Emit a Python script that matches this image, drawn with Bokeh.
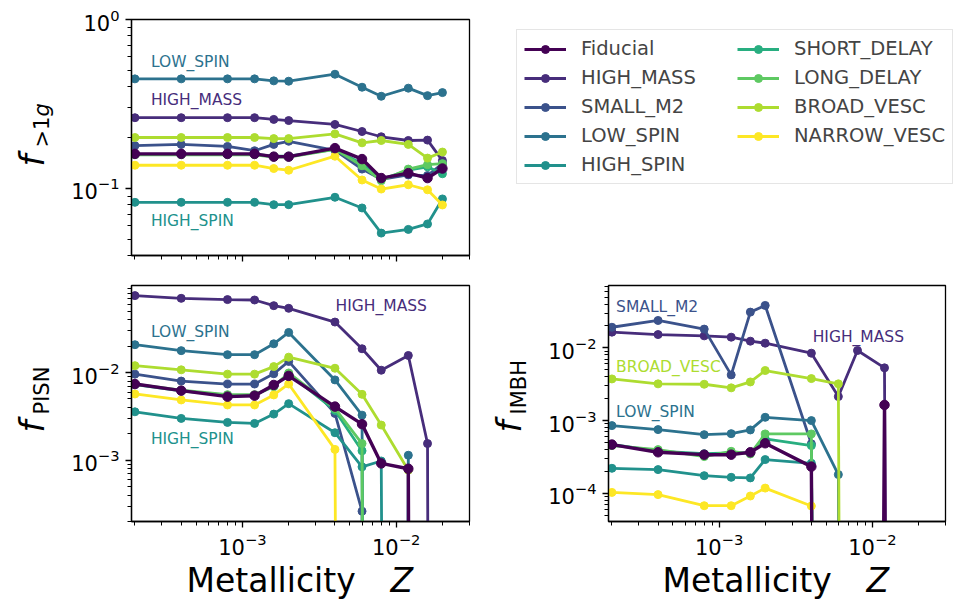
import math
from bokeh.plotting import figure
from bokeh.models import (Range1d, FixedTicker, CustomJSTickFormatter, Label,
                          Legend, LegendItem, ColumnDataSource)
from bokeh.core.properties import value
from bokeh.layouts import row, column
from bokeh.embed import file_html
from bokeh.resources import INLINE

# ---------------- data ----------------
Z = [0.0002, 0.0004, 0.0008, 0.0012, 0.0016, 0.002, 0.004, 0.006, 0.008, 0.012, 0.016, 0.02]

SERIES = ["Fiducial", "HIGH_MASS", "SMALL_M2", "LOW_SPIN", "HIGH_SPIN",
          "SHORT_DELAY", "LONG_DELAY", "BROAD_VESC", "NARROW_VESC"]
COLORS = ["#440154", "#472d7b", "#3b528b", "#2c728e", "#21918c",
          "#28ae80", "#5ec962", "#addc30", "#fde725"]

# f_{>1g}
g1_fiducial = [0.160, 0.160, 0.160, 0.160, 0.154, 0.154, 0.173, 0.149, 0.115, 0.123, 0.115, 0.131]
g1_high_mass = [0.262, 0.262, 0.262, 0.262, 0.256, 0.252, 0.239, 0.217, 0.202, 0.192, 0.193, 0.146]
g1_small_m2 = [0.179, 0.182, 0.177, 0.167, 0.182, 0.190, 0.168, 0.130, 0.113, 0.120, 0.119, 0.140]
g1_low_spin = [0.445, 0.445, 0.445, 0.445, 0.433, 0.431, 0.474, 0.397, 0.351, 0.392, 0.354, 0.369]
g1_high_spin = [0.0826, 0.0826, 0.0826, 0.0826, 0.080, 0.080, 0.0885, 0.0765, 0.0543, 0.0571, 0.0615, 0.0865]
g1_short_delay = [0.159, 0.159, 0.159, 0.159, 0.155, 0.155, 0.170, 0.140, 0.113, 0.128, 0.134, 0.122]
g1_long_delay = [0.158, 0.158, 0.158, 0.158, 0.153, 0.153, 0.170, 0.136, 0.111, 0.130, 0.138, 0.140]
g1_broad_vesc = [0.200, 0.200, 0.200, 0.200, 0.197, 0.197, 0.210, 0.186, 0.192, 0.182, 0.151, 0.164]
g1_narrow_vesc = [0.137, 0.137, 0.137, 0.137, 0.131, 0.128, 0.155, 0.112, 0.099, 0.105, 0.098, 0.0797]

# f_PISN
pisn_fiducial = [0.0074, 0.00622, 0.00531, 0.00545, 0.00722, 0.00916, 0.00409, 0.00258, 0.00092, 0.00080, 0, 0]
pisn_high_mass = [0.0755, 0.0703, 0.068, 0.0673, 0.058, 0.0541, 0.0377, 0.0187, 0.01064, 0.01567, 0.00155, 0]
pisn_small_m2 = [0.0096, 0.0080, 0.0074, 0.0074, 0.0097, 0.0134, 0.00342, 0.000262, 0, 0, 0, 0]
pisn_low_spin = [0.0208, 0.0178, 0.0160, 0.0160, 0.0213, 0.0287, 0.00825, 0.00327, 0, 0.00114, 0, 0]
pisn_high_spin = [0.00357, 0.0030, 0.0027, 0.00263, 0.00336, 0.00442, 0.00206, 0.00084, 0.00098, 0, 0, 0]
pisn_short_delay = [0.0073, 0.0062, 0.0055, 0.0055, 0.0070, 0.0097, 0.0037, 0.00128, 0, 0, 0, 0]
pisn_long_delay = [0.0074, 0.0063, 0.0056, 0.0056, 0.0069, 0.0099, 0.0039, 0.00155, 0, 0, 0, 0]
pisn_broad_vesc = [0.0120, 0.01075, 0.0096, 0.0096, 0.0117, 0.0150, 0.0112, 0.00565, 0.00252, 0.00077, 0, 0]
pisn_narrow_vesc = [0.0057, 0.00487, 0.00427, 0.00427, 0.00556, 0.00741, 0.00133, 0, 0, 0, 0, 0]

# f_IMBH
imbh_fiducial = [0.000468, 0.000367, 0.00034, 0.00034, 0.000367, 0.000488, 0.000233, 0, 0, 0.00164, 0, 0]
imbh_high_mass = [0.01644, 0.01524, 0.01462, 0.01402, 0.01236, 0.01159, 0.00845, 0.00214, 0.00919, 0.00531, 0, 0]
imbh_small_m2 = [0.0192, 0.0238, 0.0181, 0.00425, 0.0310, 0.0383, 0.00048, 0, 0, 0, 0, 0]
imbh_low_spin = [0.000853, 0.000752, 0.000641, 0.000662, 0.000744, 0.00111, 0.0010, 0.000181, 0, 0, 0, 0]
imbh_high_spin = [0.000221, 0.000212, 0.000175, 0.000166, 0.000163, 0.000291, 0.000259, 0, 0, 0, 0, 0]
imbh_short_delay = [0.00047, 0.00038, 0.00035, 0.00036, 0.00036, 0.00056, 0.000453, 0, 0, 0, 0, 0]
imbh_long_delay = [0.000453, 0.000399, 0.000320, 0.000378, 0.000348, 0.000656, 0.000656, 0, 0, 0, 0, 0]
imbh_broad_vesc = [0.00374, 0.00320, 0.00316, 0.00282, 0.00340, 0.00488, 0.00378, 0.00320, 0, 0, 0, 0]
imbh_narrow_vesc = [0.000103, 0.000096, 0.0000676, 0.0000676, 0.0000919, 0.000118, 0.0000669, 0, 0, 0, 0, 0]

G1 = [g1_fiducial, g1_high_mass, g1_small_m2, g1_low_spin, g1_high_spin,
      g1_short_delay, g1_long_delay, g1_broad_vesc, g1_narrow_vesc]
PISN = [pisn_fiducial, pisn_high_mass, pisn_small_m2, pisn_low_spin, pisn_high_spin,
        pisn_short_delay, pisn_long_delay, pisn_broad_vesc, pisn_narrow_vesc]
IMBH = [imbh_fiducial, imbh_high_mass, imbh_small_m2, imbh_low_spin, imbh_high_spin,
        imbh_short_delay, imbh_long_delay, imbh_broad_vesc, imbh_narrow_vesc]

# ---------------- style ----------------
FONT = "DejaVu Sans"
X_RANGE = (1.9e-4, 0.03)
FLOOR = 1e-60  # zero values on a log axis drop straight down out of the frame

X_MAJOR = [1e-4, 1e-3, 1e-2, 1e-1]
MINORS = [m * 10.0 ** e for e in range(-6, 1) for m in range(2, 10)]

ROW1_H, ROW1_TOP, ROW1_BOT = 275, 19, 20
ROW2_H, ROW2_TOP, ROW2_BOT = 286, 10, 40
LABX_H = 44


def make_fig(width, height, yr, left, right, top, bottom):
    p = figure(width=width, height=height, x_axis_type="log", y_axis_type="log",
               x_range=Range1d(*X_RANGE), y_range=Range1d(*yr),
               output_backend="svg", toolbar_location=None,
               min_border_left=left, min_border_right=right,
               min_border_top=top, min_border_bottom=bottom)
    p.xgrid.visible = False
    p.ygrid.visible = False
    p.outline_line_color = "black"
    p.outline_line_width = 1.3
    p.outline_line_alpha = 1.0
    p.background_fill_color = "white"
    p.border_fill_color = "white"
    for ax in (p.xaxis[0], p.yaxis[0]):
        ax.axis_line_color = "black"
        ax.axis_line_width = 1.3
        ax.major_tick_line_color = "black"
        ax.major_tick_line_width = 1.3
        ax.minor_tick_line_color = "black"
        ax.minor_tick_line_width = 1.0
        ax.major_tick_in = 0
        ax.major_tick_out = 6
        ax.minor_tick_in = 0
        ax.minor_tick_out = 4
        ax.major_label_text_font = FONT
        ax.major_label_text_font_size = "21px"
        ax.major_label_text_color = "black"
    p.xaxis[0].ticker = FixedTicker(ticks=X_MAJOR, minor_ticks=MINORS)
    p.yaxis[0].ticker = FixedTicker(ticks=[1e-5, 1e-4, 1e-3, 1e-2, 1e-1, 1.0], minor_ticks=MINORS)
    p.xaxis[0].major_label_standoff = 5
    p.yaxis[0].major_label_standoff = 6
    return p


def draw(p, values):
    order = list(range(1, len(SERIES))) + [0]
    for i in order:
        vals = values[i]
        lw = 3.4 if i == 0 else 2.8
        sz = 9.5 if i == 0 else 8.0
        ys = [v if v > 0 else FLOOR for v in vals]
        p.line(Z, ys, line_color=COLORS[i], line_width=lw)
        src = ColumnDataSource(dict(x=[z for z, v in zip(Z, vals) if v > 0],
                                    y=[v for v in vals if v > 0]))
        p.scatter("x", "y", source=src, size=sz, fill_color=COLORS[i],
                  line_color=COLORS[i])


def annotate(p, notes):
    for text, x, y, color in notes:
        p.add_layout(Label(x=x, y=y, text=text, text_color=color, text_font=FONT,
                           text_font_size="15.5px", text_baseline="middle",
                           text_align="left"))


def text_fig(width, height, top=0, bottom=0, right=0):
    # data coordinates = pixels from the figure's bottom-left corner
    f = figure(width=width, height=height, x_range=Range1d(0, width - right),
               y_range=Range1d(bottom, height - top), x_axis_type=None, y_axis_type=None,
               output_backend="svg", toolbar_location=None, min_border_left=0,
               min_border_right=right, min_border_top=top, min_border_bottom=bottom)
    f.outline_line_color = None
    f.xgrid.visible = False
    f.ygrid.visible = False
    f.background_fill_color = "white"
    f.border_fill_color = "white"
    return f


def put(f, x, y, text, size, style="normal", angle=0.0, align="left"):
    f.text(x=[x], y=[y], text=[text], angle=angle, text_font=value(FONT),
           text_font_size=value(size), text_font_style=value(style),
           text_align=value(align), text_baseline=value("middle"),
           text_color="black")


def ylabel(f, fx, fy, parts):
    put(f, fx, fy, "f", "34px", "italic", math.pi / 2, "center")
    for text, style, sx, sy in parts:
        put(f, sx, sy, text, "21px", style, math.pi / 2, "left")


# ---------- top row ----------
lab1 = text_fig(63, ROW1_H, ROW1_TOP, ROW1_BOT)
ylabel(lab1, 31, 115, [(">1", "normal", 41, 128), ("g", "italic", 41, 159)])

p1 = make_fig(416, ROW1_H, (0.04, 1.0), 68, 10, ROW1_TOP, ROW1_BOT)
p1.xaxis[0].formatter = CustomJSTickFormatter(code='return "";')
p1.xaxis[0].major_label_text_font_size = "1px"
p1.xaxis[0].major_label_standoff = 0
draw(p1, G1)
annotate(p1, [("LOW_SPIN", 2.54e-4, 0.558, COLORS[3]),
              ("HIGH_MASS", 2.54e-4, 0.334, COLORS[1]),
              ("HIGH_SPIN", 2.54e-4, 0.0644, COLORS[4])])

pl = figure(width=480, height=ROW1_H, x_range=Range1d(1, 2), y_range=Range1d(1, 2),
            x_axis_type=None, y_axis_type=None, output_backend="svg",
            toolbar_location=None, min_border_left=27, min_border_top=ROW1_TOP,
            min_border_right=0, min_border_bottom=ROW1_BOT)
pl.outline_line_color = None
pl.xgrid.visible = False
pl.ygrid.visible = False
items = []
for name, color, vals in zip(SERIES, COLORS, G1):
    # proxies for the legend only: the values lie outside this panel's range
    lr = pl.line(Z, vals, line_color=color, line_width=3)
    sr = pl.scatter(Z, vals, size=8, fill_color=color, line_color=color)
    items.append(LegendItem(label=name, renderers=[lr, sr]))
legend = Legend(items=items, location="top_left", ncols=2, orientation="vertical",
                margin=10, padding=7, spacing=6, label_standoff=15,
                glyph_width=42, glyph_height=20, label_height=20, label_width=150,
                label_text_font=FONT, label_text_font_size="19.5px",
                border_line_color="#cccccc", border_line_width=1.3,
                background_fill_color="white", background_fill_alpha=1.0)
pl.add_layout(legend)

# ---------- bottom row ----------
lab2 = text_fig(63, ROW2_H, ROW2_TOP, ROW2_BOT)
ylabel(lab2, 31, 135, [("PISN", "normal", 41, 147)])

p2 = make_fig(416, ROW2_H, (2.0e-4, 0.0985), 68, 10, ROW2_TOP, ROW2_BOT)
draw(p2, PISN)
annotate(p2, [("HIGH_MASS", 4.04e-3, 0.058, COLORS[1]),
              ("LOW_SPIN", 2.54e-4, 0.0287, COLORS[3]),
              ("HIGH_SPIN", 2.54e-4, 0.00173, COLORS[4])])

lab3 = text_fig(55, ROW2_H, ROW2_TOP, ROW2_BOT)
ylabel(lab3, 29, 135, [("IMBH", "normal", 39, 147)])

p3 = make_fig(421, ROW2_H, (4.1e-5, 0.072), 74, 10, ROW2_TOP, ROW2_BOT)
draw(p3, IMBH)
annotate(p3, [("SMALL_M2", 2.13e-4, 0.0361, COLORS[2]),
              ("HIGH_MASS", 4.08e-3, 0.0143, COLORS[1]),
              ("BROAD_VESC", 2.13e-4, 0.0054, COLORS[7]),
              ("LOW_SPIN", 2.13e-4, 0.0013, COLORS[3])])

# ---------- x labels ----------
labx = text_fig(955, LABX_H, right=10)
for x0 in (186, 662):
    put(labx, x0, 25, "Metallicity", "33px")
    put(labx, x0 + 204, 25, "Z", "33px", "italic")

layout = column(row(lab1, p1, pl), row(lab2, p2, lab3, p3), labx)
open("out.html", "w").write(file_html(layout, INLINE))
